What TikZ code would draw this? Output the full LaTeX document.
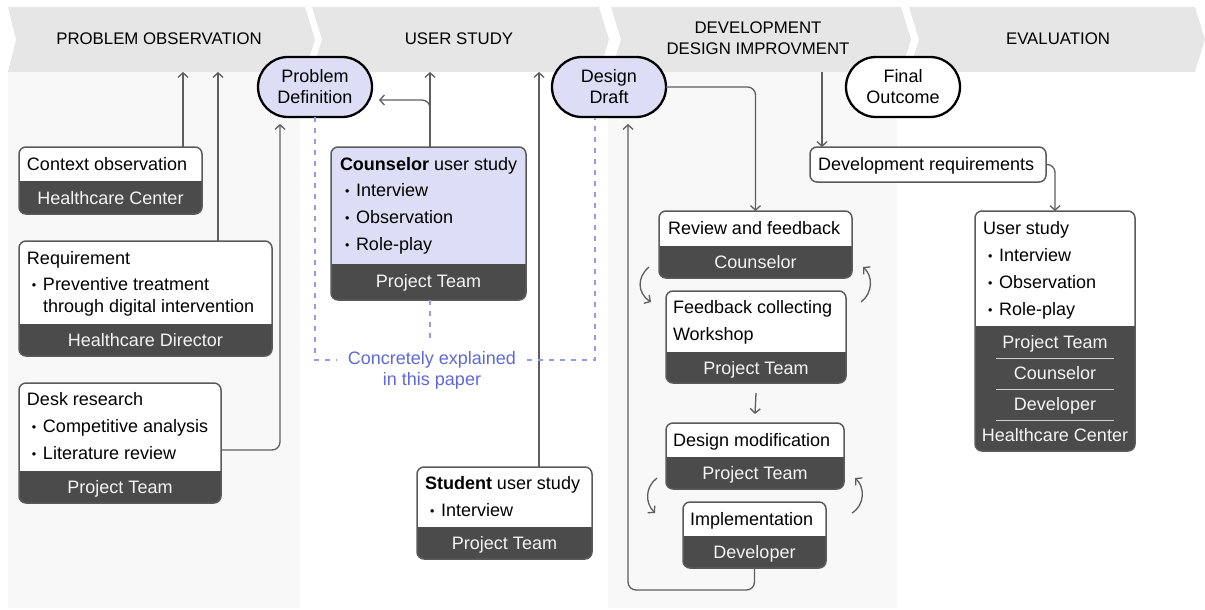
\documentclass[tikz,border=0pt]{standalone}
\usepackage{fontspec}
\setmainfont{Liberation Sans}
\usetikzlibrary{arrows.meta,fit,calc}
\definecolor{hdr}{HTML}{E6E6E6}
\definecolor{colbg}{HTML}{F8F8F8}
\definecolor{lav}{HTML}{DDDEF6}
\definecolor{darkband}{HTML}{4B4B4B}
\definecolor{bord}{HTML}{5A5A5A}
\definecolor{arrc}{HTML}{5E5E5E}
\definecolor{dashc}{HTML}{959BEA}
\definecolor{notec}{HTML}{5F68DA}
\definecolor{lite}{HTML}{F4F4F4}
\definecolor{sepc}{HTML}{CFCFCF}
\newcommand\bul{\makebox[16pt][l]{\hspace{5pt}\raisebox{0.8pt}{\fontsize{12.5}{12}\selectfont •}}}
\newcommand\splitbox[7]{%
  \node[fit={(#2,#3)(#4,#5)}] (#1) {};
  \begin{scope}
    \clip[rounded corners=7pt] (#2,#3) rectangle (#4,#5);
    \fill[darkband] (#2,#3) rectangle (#4,#5);
    \fill[#7] (#2,#3) rectangle (#4,#6);
  \end{scope}
  \draw[bord, line width=1.5pt, rounded corners=7pt] (#2,#3) rectangle (#4,#5);
}
\tikzset{
  every node/.style={font=\fontsize{18}{21}\selectfont, inner sep=0pt, outer sep=0pt},
  hdrtext/.style={font=\fontsize{16.8}{21}\selectfont, align=center},
  txt/.style={anchor=base west},
  wt/.style={anchor=base, text=lite},
  bubble/.style={draw=black, line width=2.3pt, rounded corners=30pt, minimum width=114pt, minimum height=60pt, align=center},
  arr/.style={draw=arrc, line width=1.3pt, -{Straight Barb[length=4.5pt,width=10pt]}},
  dsh/.style={draw=dashc, line width=1.3pt, dash pattern=on 5pt off 6pt},
}
\begin{document}
\begin{tikzpicture}[x=1pt,y=-1pt]
\useasboundingbox (0,0) rectangle (1205,610);
% column backgrounds
\fill[colbg] (8,72) rectangle (300,608);
\fill[colbg] (608,72) rectangle (897,608);
% header chevrons
\fill[hdr] (8,7) -- (305,7) -- (315,39.5) -- (305,72) -- (8,72) -- (16,39.5) -- cycle;
\fill[hdr] (312,7) -- (599,7) -- (609,39.5) -- (599,72) -- (312,72) -- (322,39.5) -- cycle;
\fill[hdr] (611,7) -- (901,7) -- (911,39.5) -- (901,72) -- (611,72) -- (621,39.5) -- cycle;
\fill[hdr] (909,7) -- (1195,7) -- (1205,39.5) -- (1195,72) -- (909,72) -- (919,39.5) -- cycle;
\node[hdrtext] (h1) at (159,39) {PROBLEM OBSERVATION};
\node[hdrtext] (h2) at (459,39) {USER STUDY};
\node[hdrtext] (h3) at (758,38) {DEVELOPMENT\\DESIGN IMPROVMENT};
\node[hdrtext] (h4) at (1058,39) {EVALUATION};

% bubbles
\node[bubble, fill=lav] (pd) at (315,87) {Problem\\Definition};
\node[bubble, fill=lav] (dd) at (609,87) {Design\\Draft};
\node[bubble, fill=white] (fo) at (903,87) {Final\\Outcome};

% column 1
\splitbox{ctx}{19}{147}{202}{214}{181}{white}
\node[txt] (ctx-1) at (27,170.5) {Context observation};
\node[wt] (ctx-2) at (110.5,204) {Healthcare Center};

\splitbox{req}{19}{241}{272}{356}{324}{white}
\node[txt] (req-1) at (27,264.5) {Requirement};
\node[txt] (req-2) at (27,290.5) {\bul Preventive treatment};
\node[txt] (req-3) at (43,312.5) {through digital intervention};
\node[wt] (req-4) at (145.5,346.5) {Healthcare Director};

\splitbox{desk}{19}{383}{221}{503}{471}{white}
\node[txt] (desk-1) at (27,405.5) {Desk research};
\node[txt] (desk-2) at (27,432.5) {\bul Competitive analysis};
\node[txt] (desk-3) at (27,459.5) {\bul Literature review};
\node[wt] (desk-4) at (120,493.5) {Project Team};

% column 2
\splitbox{cus}{331}{147}{526}{300}{264}{lav}
\node[txt] (cus-1) at (340,170.5) {\textbf{Counselor} user study};
\node[txt] (cus-2) at (340,196.5) {\bul Interview};
\node[txt] (cus-3) at (340,223.5) {\bul Observation};
\node[txt] (cus-4) at (340,250.5) {\bul Role-play};
\node[wt] (cus-5) at (428.5,287.5) {Project Team};

\splitbox{stu}{417}{467}{592}{559}{527}{white}
\node[txt] (stu-1) at (425,489.5) {\textbf{Student} user study};
\node[txt] (stu-2) at (425,516.5) {\bul Interview};
\node[wt] (stu-3) at (504.5,549.5) {Project Team};

% column 3
\splitbox{rev}{659}{211}{852}{278}{246}{white}
\node[txt] (rev-1) at (668,234.5) {Review and feedback};
\node[wt] (rev-2) at (755.5,268.5) {Counselor};

\splitbox{fb}{666}{291}{846}{383}{352}{white}
\node[txt] (fb-1) at (673,313.5) {Feedback collecting};
\node[txt] (fb-2) at (673,340.5) {Workshop};
\node[wt] (fb-3) at (756,374.5) {Project Team};

\splitbox{dm}{666}{423}{844}{489}{457}{white}
\node[txt] (dm-1) at (673,446.5) {Design modification};
\node[wt] (dm-2) at (755,479.5) {Project Team};

\splitbox{imp}{683}{502}{826}{568}{536}{white}
\node[txt] (imp-1) at (690,525.5) {Implementation};
\node[wt] (imp-2) at (754.5,558.5) {Developer};

% column 4
\node[fit={(810,147)(1046,182)}, draw=bord, line width=1.5pt, rounded corners=7pt, fill=white] (dr) {};
\node[txt] (dr-1) at (818,170.5) {Development requirements};

\splitbox{us}{975}{211}{1135}{451}{326}{white}
\node[txt] (us-1) at (983,234.5) {User study};
\node[txt] (us-2) at (983,261.5) {\bul Interview};
\node[txt] (us-3) at (983,288.5) {\bul Observation};
\node[txt] (us-4) at (983,315.5) {\bul Role-play};
\node[wt] (us-5) at (1055,348.5) {Project Team};
\node[wt] (us-6) at (1055,379.5) {Counselor};
\node[wt] (us-7) at (1055,410.5) {Developer};
\node[wt] (us-8) at (1055,441.5) {Healthcare Center};
\draw[sepc, line width=1pt] (996,358) -- (1114,358);
\draw[sepc, line width=1pt] (996,389) -- (1114,389);
\draw[sepc, line width=1pt] (996,420) -- (1114,420);

% coordinates
\coordinate (hA) at (183,72);
\coordinate (hB) at (218,72);
\coordinate (hC) at (430,72);
\coordinate (hD) at (539,72);
\coordinate (hE) at (822,72);
\coordinate (pdin) at (280,124);
\coordinate (brs) at (430,120);
\coordinate (pdr) at (379,100);
\coordinate (ddin) at (628,124);
\coordinate (botc) at (628,590);
\coordinate (dl) at (337,360);
\coordinate (drr) at (527,360);
\coordinate (ddb) at (595,118);
\coordinate (cdb) at (430,343);

% connectors
\draw[arr] (ctx.north -| hA) -- (hA);
\draw[arr] (req.north -| hB) -- (hB);
\draw[arr, rounded corners=8pt] ([yshift=-7pt]desk.east) -| (pdin);
\draw[arr] (cus.north -| hC) -- (hC);
\draw[arr, rounded corners=8pt] (brs) |- (pdr);
\draw[arr] (stu.north -| hD) -- (hD);
\draw[arr, rounded corners=8pt] (dd.east) -| (rev.north);
\draw[arr, rounded corners=8pt] (imp.south) |- (botc) -- (ddin);
\draw[arr] (hE) -- (hE |- dr.north);
\draw[arr, rounded corners=8pt] (dr.east) -| (us.north);
\draw[arr] ([yshift=-10pt]fb.south) -- ([yshift=9pt]dm.north);

% loops
\coordinate (l1a) at (649,267); \coordinate (l1b) at (651,302);
\coordinate (r1a) at (861,302); \coordinate (r1b) at (863,267);
\coordinate (l2a) at (657,478); \coordinate (l2b) at (655,513);
\coordinate (r2a) at (852,513); \coordinate (r2b) at (855,478);
\draw[arr] (l1a) .. controls (637,277) and (637,293) .. (l1b);
\draw[arr] (r1a) .. controls (873,293) and (873,276) .. (r1b);
\draw[arr] (l2a) .. controls (645,487) and (645,503) .. (l2b);
\draw[arr] (r2a) .. controls (865,505) and (865,487) .. (r2b);

% dashed
\draw[dsh] (pd.south) |- (dl);
\draw[dsh] (drr) -| (ddb);
\draw[dsh] (cus.south -| hC) -- (cdb);
\node[text=notec, align=center] (note) at (432,370) {Concretely explained\\in this paper};
\end{tikzpicture}
\end{document}
